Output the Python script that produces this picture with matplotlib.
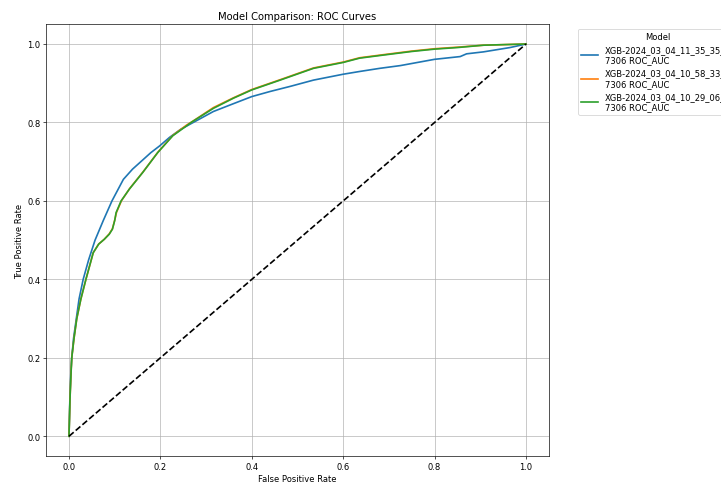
import matplotlib
matplotlib.use('Agg')
import matplotlib.pyplot as plt

# model names (legend labels get wrapped, the tail is clipped by the figure edge)
model_labels = [
    "XGB-2024_03_04_11_35_35_0.\n7306 ROC_AUC",
    "XGB-2024_03_04_10_58_33_0.\n7306 ROC_AUC",
    "XGB-2024_03_04_10_29_06_0.\n7306 ROC_AUC",
]

fpr_blue = [0.0, 0.002, 0.004, 0.006, 0.010, 0.016, 0.022, 0.031, 0.043, 0.057,
            0.075, 0.094, 0.119, 0.139, 0.160, 0.179, 0.198, 0.220, 0.245, 0.275,
            0.316, 0.360, 0.400, 0.440, 0.484, 0.535, 0.600, 0.636, 0.680, 0.725,
            0.800, 0.856, 0.870, 0.907, 0.965, 1.0]
tpr_blue = [0.0, 0.10, 0.16, 0.20, 0.25, 0.30, 0.35, 0.40, 0.45, 0.50,
            0.55, 0.60, 0.655, 0.681, 0.703, 0.723, 0.740, 0.762, 0.783, 0.802,
            0.828, 0.848, 0.866, 0.879, 0.892, 0.908, 0.923, 0.930, 0.938, 0.945,
            0.961, 0.968, 0.975, 0.980, 0.991, 1.0]

fpr_orange = [0.0, 0.002, 0.004, 0.006, 0.011, 0.017, 0.026, 0.037, 0.053, 0.065,
              0.077, 0.088, 0.095, 0.100, 0.104, 0.115, 0.133, 0.162, 0.195, 0.228,
              0.258, 0.268, 0.316, 0.360, 0.400, 0.462, 0.535, 0.600, 0.636, 0.689,
              0.750, 0.800, 0.850, 0.907, 1.0]
tpr_orange = [0.0, 0.09, 0.15, 0.20, 0.25, 0.30, 0.35, 0.40, 0.468, 0.490,
              0.502, 0.516, 0.529, 0.551, 0.571, 0.601, 0.632, 0.674, 0.725, 0.768,
              0.794, 0.801, 0.838, 0.863, 0.884, 0.909, 0.939, 0.954, 0.965, 0.973,
              0.982, 0.988, 0.992, 0.997, 1.0]

fpr_green = [0.0, 0.002, 0.004, 0.006, 0.011, 0.017, 0.026, 0.037, 0.053, 0.065,
             0.077, 0.088, 0.095, 0.100, 0.103, 0.114, 0.132, 0.161, 0.194, 0.227,
             0.258, 0.267, 0.316, 0.360, 0.400, 0.462, 0.535, 0.600, 0.636, 0.689,
             0.750, 0.800, 0.850, 0.907, 1.0]
tpr_green = [0.0, 0.09, 0.15, 0.20, 0.25, 0.30, 0.35, 0.40, 0.468, 0.490,
             0.502, 0.515, 0.528, 0.550, 0.570, 0.600, 0.630, 0.672, 0.723, 0.766,
             0.792, 0.800, 0.836, 0.862, 0.883, 0.908, 0.938, 0.953, 0.964, 0.972,
             0.981, 0.987, 0.991, 0.997, 1.0]

curves = [
    (fpr_blue, tpr_blue, '#1f77b4'),
    (fpr_orange, tpr_orange, '#ff7f0e'),
    (fpr_green, tpr_green, '#2ca02c'),
]


def main():
    fig, ax = plt.subplots(figsize=(12.02, 8.08), dpi=60)
    fig.subplots_adjust(left=0.064, right=0.761, bottom=0.058, top=0.948)

    for (fpr, tpr, color), label in zip(curves, model_labels):
        ax.plot(fpr, tpr, color=color, lw=2, label=label)

    ax.plot([0, 1], [0, 1], 'k--', lw=2)

    ax.set_xlim(-0.05, 1.05)
    ax.set_ylim(-0.05, 1.05)
    ax.set_xlabel('False Positive Rate')
    ax.set_ylabel('True Positive Rate')
    ax.set_title('Model Comparison: ROC Curves')
    ax.grid(True)
    ax.legend(title='Model', loc='upper left', bbox_to_anchor=(1.05, 1))

    fig.savefig('out.png', dpi=60)
    plt.close(fig)


if __name__ == "__main__":
    main()
